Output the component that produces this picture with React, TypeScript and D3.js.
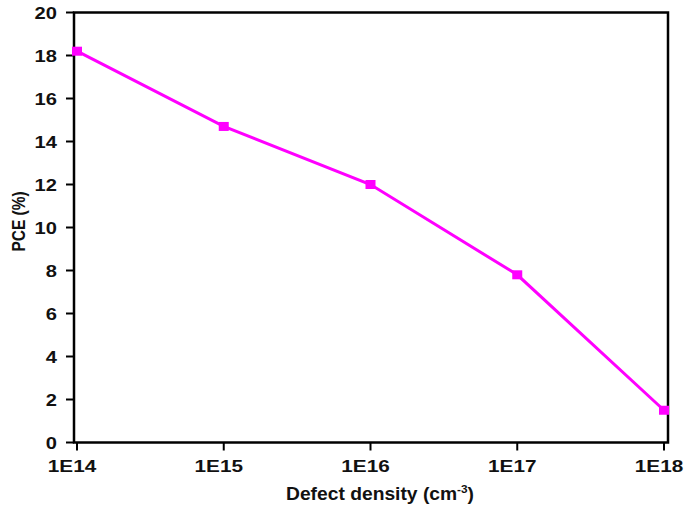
import React from 'react';
import { scaleLog, scaleLinear, line } from 'd3';

const densities = [1e14, 1e15, 1e16, 1e17, 1e18];
const pce = [18.2, 14.7, 12.0, 7.8, 1.5];
const xTickLabels = ['1E14', '1E15', '1E16', '1E17', '1E18'];
const yTicks = [0, 2, 4, 6, 8, 10, 12, 14, 16, 18, 20];

const W = 685;
const H = 509;
const FONT = 'Liberation Sans, Arial, sans-serif';
const STRETCH = 1.22;

export default function App() {
  const x = scaleLog().domain([1e14, 1e18]).range([77, 664]);
  const y = scaleLinear().domain([0, 20]).range([442.5, 12.5]);

  const points = densities.map((d, i) => [x(d), y(pce[i])] as [number, number]);
  const path = line()(points) || '';

  const frame = { left: 74, right: 668, top: 12.5, bottom: 442.5 };

  return (
    <svg
      width={W}
      height={H}
      style={{ position: 'absolute', left: 0, top: 0, background: '#fff' }}
    >
      {/* frame */}
      <rect
        x={frame.left}
        y={frame.top}
        width={frame.right - frame.left}
        height={frame.bottom - frame.top}
        fill="none"
        stroke="#000"
        strokeWidth={2.5}
      />

      {/* y axis */}
      {yTicks.map(t => (
        <g key={t}>
          <line x1={frame.left - 8} x2={frame.left} y1={y(t)} y2={y(t)} stroke="#000" strokeWidth={2} />
          <text
            transform={`translate(${frame.left - 17},${y(t) + 6}) scale(${STRETCH},1)`}
            textAnchor="end"
            fontFamily={FONT}
            fontWeight="bold"
            fontSize={16.5}
            fill="#111"
          >
            {t}
          </text>
        </g>
      ))}

      {/* x axis - labels sit a bit left of their ticks, like the original */}
      {densities.map((d, i) => (
        <g key={d}>
          <line x1={x(d)} x2={x(d)} y1={frame.bottom} y2={frame.bottom + 8} stroke="#000" strokeWidth={2} />
          <text
            transform={`translate(${x(d) - 5},${frame.bottom + 29}) scale(${STRETCH},1)`}
            textAnchor="middle"
            fontFamily={FONT}
            fontWeight="bold"
            fontSize={17}
            fill="#111"
          >
            {xTickLabels[i]}
          </text>
        </g>
      ))}

      {/* series */}
      <path d={path} fill="none" stroke="#ff00ff" strokeWidth={3} />
      {points.map(([px, py], i) => (
        <rect key={i} x={px - 5} y={py - 4.5} width={10} height={9} fill="#ff00ff" />
      ))}

      {/* axis titles */}
      <text
        transform={`translate(380,500) scale(1.07,1)`}
        textAnchor="middle"
        fontFamily={FONT}
        fontWeight="bold"
        fontSize={18}
        fill="#111"
      >
        Defect density (cm<tspan dy={-7} fontSize={11}>-3</tspan>
        <tspan dy={7}>)</tspan>
      </text>
      <text
        transform="translate(25,221.5) rotate(-90) scale(1,1.2)"
        textAnchor="middle"
        fontFamily={FONT}
        fontWeight="bold"
        fontSize={15.5}
        fill="#111"
      >
        PCE (%)
      </text>
    </svg>
  );
}
